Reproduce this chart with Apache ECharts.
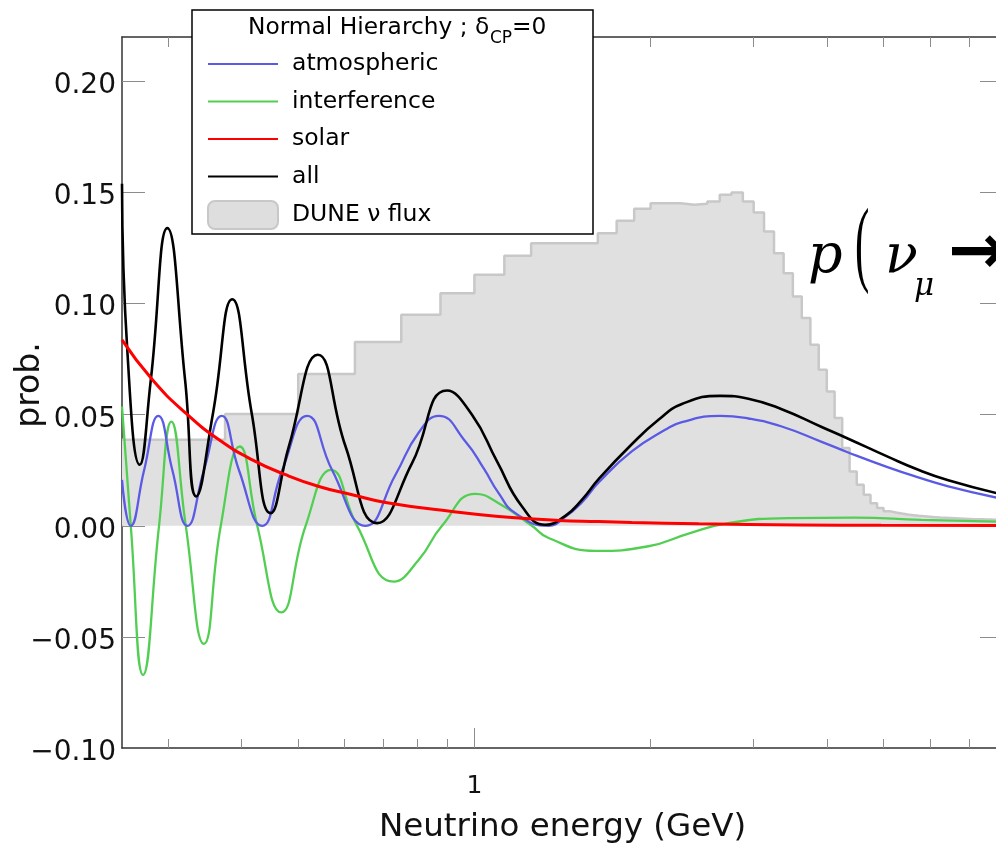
<!DOCTYPE html>
<html>
<head>
<meta charset="utf-8">
<title>Oscillation probability</title>
<script src="https://cdn.jsdelivr.net/npm/echarts@6/dist/echarts.min.js"></script>
<style>
  html, body { margin: 0; padding: 0; background: #fff; }
  #main { width: 996px; height: 846px; }
</style>
</head>
<body>
<div id="main"></div>
<script>
// axis ranges and tick labels
var energyRange = [0.25, 8];
var probRange = [-0.1, 0.22];
var energyMinorTicks = [0.3, 0.4, 0.5, 0.6, 0.7, 0.8, 0.9, 2, 3, 4, 5, 6, 7];
var energyMajorTicks = [1];
var probTicks = [-0.1, -0.05, 0, 0.05, 0.1, 0.15, 0.2];

// DUNE flux histogram (bin edges in GeV, height on the prob. scale)
var fluxEdges = [0.25, 0.375, 0.5, 0.625, 0.75, 0.875, 1, 1.125, 1.25, 1.375, 1.5, 1.625,
  1.75, 1.875, 2, 2.125, 2.25, 2.375, 2.5, 2.625, 2.75, 2.875, 3, 3.125, 3.25, 3.375,
  3.5, 3.625, 3.75, 3.875, 4, 4.125, 4.25, 4.375, 4.5, 4.625, 4.75, 4.875, 5, 5.125,
  5.25, 5.375, 5.5, 5.625, 5.75, 5.875, 6, 6.125, 6.25, 6.375, 6.5, 6.625, 6.75, 6.875,
  7, 7.125, 7.25, 7.375, 7.5, 7.625, 7.75, 7.875, 8];
var fluxValues = [0.0387, 0.0503, 0.0683, 0.0827, 0.095, 0.1047, 0.113, 0.1216, 0.1272, 0.1272,
  0.1272, 0.1317, 0.1373, 0.1427, 0.1452, 0.1452, 0.1445, 0.1449, 0.146, 0.149, 0.15, 0.146,
  0.141, 0.1325, 0.1227, 0.1137, 0.1032, 0.0935, 0.0815, 0.0702, 0.0604, 0.0485, 0.035,
  0.0245, 0.0185, 0.014, 0.0102, 0.008, 0.0066, 0.006, 0.0055, 0.0051, 0.0048, 0.0045,
  0.0043, 0.0041, 0.0039, 0.0037, 0.0036, 0.0035, 0.0034, 0.0033, 0.0032, 0.0031, 0.003,
  0.0029, 0.0029, 0.0028, 0.0028, 0.0027, 0.0027, 0.0026];

// probability curves [E (GeV), prob]
var atmospheric = [[0.25, 0.0207], [0.2588, 0], [0.2727, 0.025], [0.2884, 0.0495], [0.3048, 0.025],
  [0.3233, 0], [0.3451, 0.025], [0.3701, 0.0495], [0.3961, 0.025], [0.4341, 0], [0.4695, 0.025],
  [0.518, 0.0495], [0.5715, 0.025], [0.6516, 0], [0.7332, 0.023], [0.8034, 0.042], [0.8691, 0.0495],
  [0.9652, 0.038], [1.038, 0.0257], [1.1, 0.0147], [1.175, 0.0057], [1.339, 0], [1.43, 0.004],
  [1.526, 0.0105], [1.63, 0.0195], [1.857, 0.0335], [2.118, 0.0432], [2.262, 0.0467], [2.629, 0.0495],
  [2.938, 0.0483], [3.35, 0.0447], [3.92, 0.0378], [4.352, 0.033], [5.093, 0.0263], [5.732, 0.0218],
  [6.45, 0.0178], [7.8, 0.0127]];
var interference = [[0.25, 0.0537], [0.2588, 0], [0.2716, -0.0671], [0.2892, 0], [0.3036, 0.0469],
  [0.3213, 0], [0.3451, -0.0531], [0.3687, 0], [0.3972, 0.0357], [0.4256, 0], [0.4677, -0.039],
  [0.5148, 0], [0.5691, 0.0252], [0.6303, 0], [0.7283, -0.0251], [0.8034, -0.0153], [0.8804, 0],
  [1.004, 0.0144], [1.1, 0.0102], [1.254, 0], [1.339, -0.0055], [1.609, -0.0113], [1.983, -0.0092],
  [2.322, -0.0035], [2.716, 0.0012], [3.439, 0.0035], [4.469, 0.0037], [5.799, 0.0027], [7.8, 0.0019]];
var solar = [[0.25, 0.0837], [0.2818, 0.0657], [0.3213, 0.0507], [0.3662, 0.0387], [0.4174, 0.0297],
  [0.4758, 0.023], [0.5424, 0.0177], [0.6182, 0.014], [0.7049, 0.0105], [0.9158, 0.0064],
  [1.1, 0.0042], [1.392, 0.0024], [1.63, 0.0019], [1.857, 0.0015], [2.415, 0.0009], [3.577, 0.0004],
  [4.955, 0.0002], [7.8, 0.0001]];
var allTerms = [[0.25, 0.154], [0.2554, 0.078], [0.2681, 0.0275], [0.28, 0.0657], [0.2988, 0.134],
  [0.3204, 0.0657], [0.3348, 0.0132], [0.3576, 0.0507], [0.3857, 0.102], [0.4164, 0.0507],
  [0.4486, 0.0057], [0.482, 0.0357], [0.5402, 0.077], [0.6024, 0.0357], [0.6822, 0.0012],
  [0.7825, 0.0282], [0.8979, 0.0609], [0.9906, 0.05], [1.093, 0.029], [1.206, 0.0087],
  [1.322, 0.0005], [1.43, 0.0045], [1.526, 0.0117], [1.63, 0.021], [1.857, 0.0367], [2.063, 0.0477],
  [2.262, 0.0548], [2.629, 0.0585], [2.938, 0.0572], [3.35, 0.0525], [3.92, 0.0445], [4.352, 0.0392],
  [5.093, 0.031], [5.732, 0.0252], [6.45, 0.0205], [7.8, 0.0147]];

var FONT = 'DejaVu Sans';
var LINE_ICON = 'path://M0,0 L70,0 L70,2 L0,2 Z';
var logMin = Math.log10(energyRange[0]);
var logMax = Math.log10(energyRange[1]);

function toLog(list) {
  return list.map(function (e) { return Math.log10(e); });
}

// tick marks inside the frame, skipping the one that sits on the bottom frame line
var probInnerTicks = probTicks.filter(function (v) { return v > probRange[0]; });

// flux as a step histogram
var fluxData = fluxValues.map(function (v, i) { return [fluxEdges[i], v]; });
fluxData.push([fluxEdges[fluxEdges.length - 1], fluxValues[fluxValues.length - 1]]);

// helper axes that only carry the log ticks
function tickAxis(pos, ticks, len, showLabel, showLine) {
  return {
    type: 'value',
    position: pos,
    min: logMin,
    max: logMax,
    axisLine: { show: !!showLine, onZero: false, lineStyle: { color: '#333', width: 1.5 } },
    axisTick: {
      show: true, inside: true, length: len, customValues: toLog(ticks),
      lineStyle: { color: '#8c8c8c', width: 1 }
    },
    axisLabel: showLabel ? {
      show: true, customValues: toLog(ticks), margin: 26,
      fontFamily: FONT, fontSize: 25, lineHeight: 25, color: '#111',
      formatter: function (v) { return String(Math.round(Math.pow(10, v))); }
    } : { show: false },
    splitLine: { show: false }
  };
}

function probAxis(pos, showLabel) {
  return {
    type: 'value',
    position: pos,
    min: probRange[0],
    max: probRange[1],
    interval: 0.05,
    axisLine: { show: true, onZero: false, lineStyle: { color: '#333', width: 1.5 } },
    axisTick: {
      show: true, inside: true, length: 23, customValues: probInnerTicks,
      lineStyle: { color: '#8c8c8c', width: 1 }
    },
    axisLabel: showLabel ? {
      show: true, customValues: probTicks, margin: 6,
      fontFamily: FONT, fontSize: 28, color: '#111',
      formatter: function (v) {
        if (Math.abs(v - probRange[1]) < 1e-9) return '';
        return '{v|' + (v < 0 ? '\u2212' : '') + Math.abs(v).toFixed(2) + '}';
      },
      rich: { v: { fontFamily: FONT, fontSize: 28, color: '#111', padding: [9, 0, 0, 0] } }
    } : { show: false },
    splitLine: { show: false },
    name: showLabel ? 'prob.' : '',
    nameLocation: 'middle',
    nameGap: 74,
    nameMoveOverlap: false,
    nameTextStyle: { fontFamily: FONT, fontSize: 33, color: '#111', lineHeight: 36, padding: [0, 0, 0, 15] }
  };
}

function curve(name, data, color, width) {
  return {
    name: name,
    type: 'line',
    data: data,
    symbol: 'none',
    smooth: 0.5,
    lineStyle: { color: color, width: width },
    itemStyle: { color: color },
    z: 3
  };
}

var myChart = echarts.init(document.getElementById('main'));

var option = {
  animation: false,
  backgroundColor: '#fff',
  grid: { left: 122, right: -7, top: 37, bottom: 98, containLabel: false, outerBoundsMode: 'none' },
  xAxis: [
    {
      type: 'log', logBase: 10, position: 'bottom',
      min: energyRange[0], max: energyRange[1],
      axisLine: { show: true, onZero: false, lineStyle: { color: '#333', width: 1.5 } },
      axisTick: { show: false },
      axisLabel: { show: false },
      splitLine: { show: false },
      minorTick: { show: false },
      minorSplitLine: { show: false },
      name: 'Neutrino energy (GeV)',
      nameLocation: 'middle',
      nameGap: 63,
      nameMoveOverlap: false,
      nameTextStyle: { fontFamily: FONT, fontSize: 32.5, lineHeight: 33, color: '#111' }
    },
    tickAxis('bottom', energyMinorTicks, 9, false, false),
    tickAxis('bottom', energyMajorTicks, 20, true, false),
    tickAxis('top', energyMinorTicks, 10, false, true),
    tickAxis('top', energyMajorTicks, 20, false, false)
  ],
  yAxis: [probAxis('left', true), probAxis('right', false)],
  legend: {
    orient: 'vertical',
    left: 207,
    top: 50,
    padding: 0,
    itemWidth: 70,
    itemHeight: 28,
    itemGap: 9.5,
    selectedMode: false,
    z: 60,
    textStyle: { fontFamily: FONT, fontSize: 23.5, lineHeight: 28, color: '#000', padding: [0, 0, 0, 9] },
    data: [
      { name: 'atmospheric', icon: LINE_ICON },
      { name: 'interference', icon: LINE_ICON },
      { name: 'solar', icon: LINE_ICON },
      { name: 'all', icon: LINE_ICON },
      { name: 'DUNE \u03bd flux', icon: 'roundRect',
        itemStyle: { color: '#dedede', borderColor: '#c8c8c8', borderWidth: 2 } }
    ]
  },
  graphic: [
    { type: 'rect', z: 50, shape: { x: 192, y: 10, width: 401, height: 224 },
      style: { fill: '#fff', stroke: '#000', lineWidth: 1.5 } },
    { type: 'text', z: 60, x: 248, y: 28,
      style: { text: 'Normal Hierarchy ; \u03b4', fontFamily: FONT, fontSize: 23.3, fill: '#000', align: 'left', verticalAlign: 'middle' } },
    { type: 'text', z: 60, x: 490, y: 39,
      style: { text: 'CP', fontFamily: FONT, fontSize: 17, fill: '#000', align: 'left', verticalAlign: 'middle' } },
    { type: 'text', z: 60, x: 512, y: 28,
      style: { text: '=0', fontFamily: FONT, fontSize: 23.3, fill: '#000', align: 'left', verticalAlign: 'middle' } },
    // slide overlay: p( nu_mu ->
    { type: 'text', z: 60, x: 808, y: 258,
      style: { text: 'p', fontFamily: 'DejaVu Serif', fontStyle: 'italic', fontSize: 54, fill: '#000', align: 'left', verticalAlign: 'middle' } },
    { type: 'text', z: 60, x: 855, y: 249, scaleX: 0.5, scaleY: 1.1,
      style: { text: '(', fontFamily: 'Liberation Serif', fontSize: 86, fill: '#000', align: 'left', verticalAlign: 'middle' } },
    { type: 'text', z: 60, x: 885, y: 258,
      style: { text: '\u03bd', fontFamily: 'DejaVu Serif', fontStyle: 'italic', fontSize: 54, fill: '#000', align: 'left', verticalAlign: 'middle' } },
    { type: 'text', z: 60, x: 914, y: 287,
      style: { text: '\u03bc', fontFamily: 'DejaVu Serif', fontStyle: 'italic', fontSize: 31, fill: '#000', align: 'left', verticalAlign: 'middle' } },
    { type: 'text', z: 60, x: 948, y: 255,
      style: { text: '\u2192', fontFamily: FONT, fontWeight: 'bold', fontSize: 70, fill: '#000', align: 'left', verticalAlign: 'middle' } }
  ],
  series: [
    {
      name: 'DUNE \u03bd flux',
      type: 'line',
      step: 'end',
      data: fluxData,
      symbol: 'none',
      lineStyle: { color: '#c8c8c8', width: 2.5 },
      itemStyle: { color: '#dedede' },
      areaStyle: { color: '#e0e0e0', opacity: 1 },
      z: 1
    },
    curve('interference', interference, '#52cf52', 2.3),
    curve('atmospheric', atmospheric, '#5a5ae4', 2.3),
    curve('all', allTerms, '#000000', 2.6),
    curve('solar', solar, '#ff0000', 3)
  ]
};

myChart.setOption(option);
</script>
</body>
</html>
